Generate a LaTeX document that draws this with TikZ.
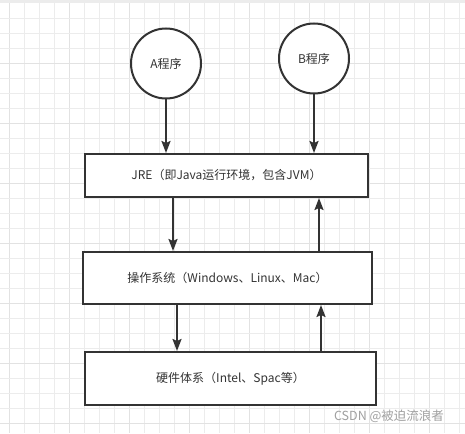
\documentclass[tikz,border=0pt]{standalone}
\usepackage{fontspec}
\usepackage{xcolor}
\usepackage{tikz}
\usetikzlibrary{arrows.meta}
\newfontfamily\cjk{Noto Sans CJK SC}
\definecolor{gridminor}{RGB}{236, 236, 236}
\definecolor{gridmajor}{RGB}{226, 226, 226}
\definecolor{topband}{RGB}{236, 236, 236}
\definecolor{inkline}{RGB}{51, 51, 51}
\definecolor{marktext}{RGB}{160, 160, 160}

\tikzset{
	prog/.style={circle, draw=inkline, line width=2pt, fill=white, minimum size=70pt, inner sep=0pt, font=\cjk\fontsize{12}{14}\selectfont, text=inkline},
	layer/.style={rectangle, draw=inkline, line width=2pt, fill=white, inner sep=0pt, font=\cjk\fontsize{12}{14}\selectfont, text=inkline},
	flow/.style={draw=inkline, line width=2pt, -{Stealth[length=12pt, width=9pt, inset=2pt]}}
}

\begin{document}
\begin{tikzpicture}[x=1pt, y=-1pt]
			\def\W{465}
			\def\H{433}
			
			\useasboundingbox (0, 0) rectangle (\W, \H);
			\fill[white] (0, 0) rectangle (\W, \H);
			
			\foreach \k in {0,...,30} {
				\pgfmathsetmacro{\gx}{9.5 + 15*\k}
				\pgfmathtruncatemacro{\m}{mod(\k, 4)}
				\ifnum\m=0
					\draw[gridmajor, line width=1pt] (\gx, 0) -- (\gx, \H);
				\else
					\draw[gridminor, line width=1pt] (\gx, 0) -- (\gx, \H);
				\fi
			}
			\foreach \k in {1,...,28} {
				\pgfmathsetmacro{\gy}{3.5 + 15*\k}
				\pgfmathtruncatemacro{\m}{mod(\k, 4)}
				\ifnum\m=0
					\draw[gridmajor, line width=1pt] (0, \gy) -- (\W, \gy);
				\else
					\draw[gridminor, line width=1pt] (0, \gy) -- (\W, \gy);
				\fi
			}
			\fill[topband] (0, 0) rectangle (\W, 3.5);
			
			\node[prog] (progA) at (166, 63.5) {A程序};
			\node[prog] (progB) at (314, 58.5) {B程序};
			
			\node[layer, minimum width=283pt, minimum height=43pt] (jre) at (226.5, 175.5) {JRE（即Java运行环境，包含JVM）};
			\node[layer, minimum width=289pt, minimum height=52pt] (os) at (227.5, 278) {操作系统（Windows、Linux、Mac）};
			\node[layer, minimum width=291pt, minimum height=53pt] (hw) at (230.5, 378.5) {硬件体系（Intel、Spac等）};
			
			\node[font=\cjk\fontsize{12.5}{14}\selectfont, text=marktext, inner sep=0pt] (mark) at (389, 416.5) {CSDN @被迫流浪者};
			
			\coordinate (downA) at (173, 0);
			\coordinate (upA) at (319, 0);
			\coordinate (downB) at (177, 0);
			\coordinate (upB) at (321, 0);
			
			\draw[flow] (progA.south) -- (progA.south |- jre.north);
			\draw[flow] (progB.south) -- (progB.south |- jre.north);
			\draw[flow] (jre.south -| downA) -- (os.north -| downA);
			\draw[flow] (os.north -| upA) -- (jre.south -| upA);
			\draw[flow] (os.south -| downB) -- (hw.north -| downB);
			\draw[flow] (hw.north -| upB) -- (os.south -| upB);
			
		\end{tikzpicture}
\end{document}
